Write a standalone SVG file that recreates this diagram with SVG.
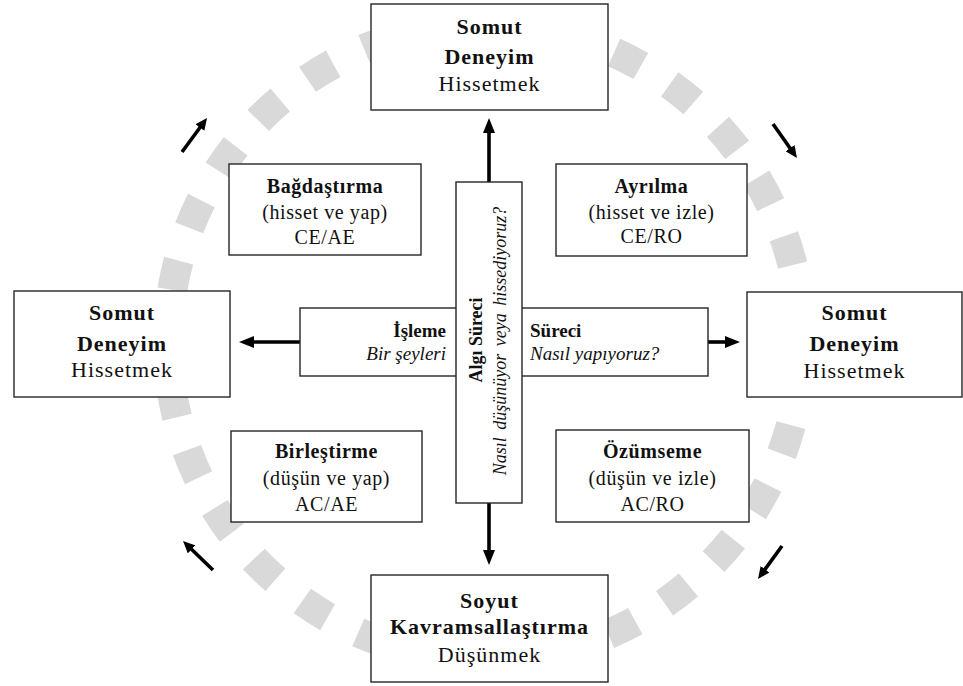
<svg xmlns="http://www.w3.org/2000/svg" width="963" height="686" viewBox="0 0 963 686">
  <style>
    .box { fill: #fff; stroke: #262626; stroke-width: 1.4; }
    .t { font-family: "Liberation Serif", "Times New Roman", serif; fill: #111; text-anchor: middle; }
    .b { font-weight: bold; }
    .i { font-style: italic; }
    .big { font-size: 22px; letter-spacing: 1px; }
    .mid { font-size: 20px; letter-spacing: 0.6px; }
    .sm { font-size: 19px; }
    .conn { stroke: #000; stroke-width: 3.6; fill: none; marker-end: url(#ah); }
    .cyc { stroke: #000; stroke-width: 3.6; fill: none; marker-end: url(#ahs); }
  </style>
  <defs>
    <marker id="ah" viewBox="0 0 15 12" refX="2" refY="6" markerWidth="15" markerHeight="12" markerUnits="userSpaceOnUse" orient="auto">
      <path d="M0,0 L15,6 L0,12 z" fill="#000"/>
    </marker>
    <marker id="ahs" viewBox="0 0 12 11" refX="2" refY="5.5" markerWidth="12" markerHeight="11" markerUnits="userSpaceOnUse" orient="auto">
      <path d="M0,0 L12,5.5 L0,11 z" fill="#000"/>
    </marker>
  </defs>

  <rect width="963" height="686" fill="#fff"/>

  <!-- dotted cycle ring behind everything -->
  <circle cx="485" cy="342" r="317" fill="none" stroke="#d9d9d9" stroke-width="30" stroke-dasharray="30 34.25" stroke-dashoffset="-19.9"/>

  <!-- connectors -->
  <g id="connectors">
    <line class="conn" x1="489" y1="182" x2="489" y2="131"/>
    <line class="conn" x1="489" y1="503" x2="489" y2="552"/>
    <line class="conn" x1="300" y1="342" x2="252" y2="342"/>
    <line class="conn" x1="708" y1="342" x2="727" y2="342"/>
    <line class="cyc" x1="182" y1="152" x2="201.1" y2="126"/>
    <line class="cyc" x1="773" y1="124" x2="791.2" y2="149.8"/>
    <line class="cyc" x1="782" y1="546" x2="763.9" y2="570.9"/>
    <line class="cyc" x1="213" y1="570" x2="190.2" y2="548"/>
  </g>

  <g id="top">
    <rect class="box" x="371" y="4" width="237" height="106"/>
    <text class="t b big" x="489.5" y="34">Somut</text>
    <text class="t b big" x="489.5" y="64">Deneyim</text>
    <text class="t big" x="489.5" y="91">Hissetmek</text>
  </g>

  <g id="left">
    <rect class="box" x="14" y="291" width="216" height="106"/>
    <text class="t b big" x="122" y="320">Somut</text>
    <text class="t b big" x="122" y="351">Deneyim</text>
    <text class="t big" x="122" y="377">Hissetmek</text>
  </g>

  <g id="right">
    <rect class="box" x="747" y="292" width="215" height="105"/>
    <text class="t b big" x="854.5" y="320">Somut</text>
    <text class="t b big" x="854.5" y="351">Deneyim</text>
    <text class="t big" x="854.5" y="378">Hissetmek</text>
  </g>

  <g id="bottom">
    <rect class="box" x="371" y="575" width="237" height="107"/>
    <text class="t b big" x="489.5" y="608">Soyut</text>
    <text class="t b big" x="489.5" y="634">Kavramsallaştırma</text>
    <text class="t big" x="489.5" y="662">Düşünmek</text>
  </g>

  <g id="bagdastirma">
    <rect class="box" x="229" y="164" width="192" height="91"/>
    <text class="t b mid" x="325" y="193">Bağdaştırma</text>
    <text class="t mid" x="325" y="219">(hisset ve yap)</text>
    <text class="t mid" x="325" y="244">CE/AE</text>
  </g>

  <g id="ayrilma">
    <rect class="box" x="556" y="164" width="191" height="92"/>
    <text class="t b mid" x="651.5" y="193">Ayrılma</text>
    <text class="t mid" x="651.5" y="219">(hisset ve izle)</text>
    <text class="t mid" x="651.5" y="243">CE/RO</text>
  </g>

  <g id="birlestirme">
    <rect class="box" x="231" y="431" width="191" height="91"/>
    <text class="t b mid" x="326.5" y="458">Birleştirme</text>
    <text class="t mid" x="326.5" y="485">(düşün ve yap)</text>
    <text class="t mid" x="326.5" y="511">AC/AE</text>
  </g>

  <g id="ozumseme">
    <rect class="box" x="556" y="430" width="193" height="92"/>
    <text class="t b mid" x="652.5" y="458">Özümseme</text>
    <text class="t mid" x="652.5" y="485">(düşün ve izle)</text>
    <text class="t mid" x="652.5" y="511">AC/RO</text>
  </g>

  <g id="isleme">
    <rect class="box" x="300" y="308" width="408" height="68"/>
    <text class="t b sm" x="446" y="337" style="text-anchor:end">İşleme</text>
    <text class="t i sm" x="446" y="360" style="text-anchor:end">Bir şeyleri</text>
    <text class="t b sm" x="530" y="337" style="text-anchor:start">Süreci</text>
    <text class="t i sm" x="530" y="360" style="text-anchor:start">Nasıl yapıyoruz?</text>
  </g>

  <g id="algi">
    <rect class="box" x="456" y="182" width="66" height="321"/>
    <text class="t b" font-size="18" transform="translate(482 340) rotate(-90)" x="0" y="0">Algı Süreci</text>
    <text class="t i" font-size="18" word-spacing="3" transform="translate(506 341) rotate(-90)" x="0" y="0">Nasıl düşünüyor veya hissediyoruz?</text>
  </g>
</svg>
